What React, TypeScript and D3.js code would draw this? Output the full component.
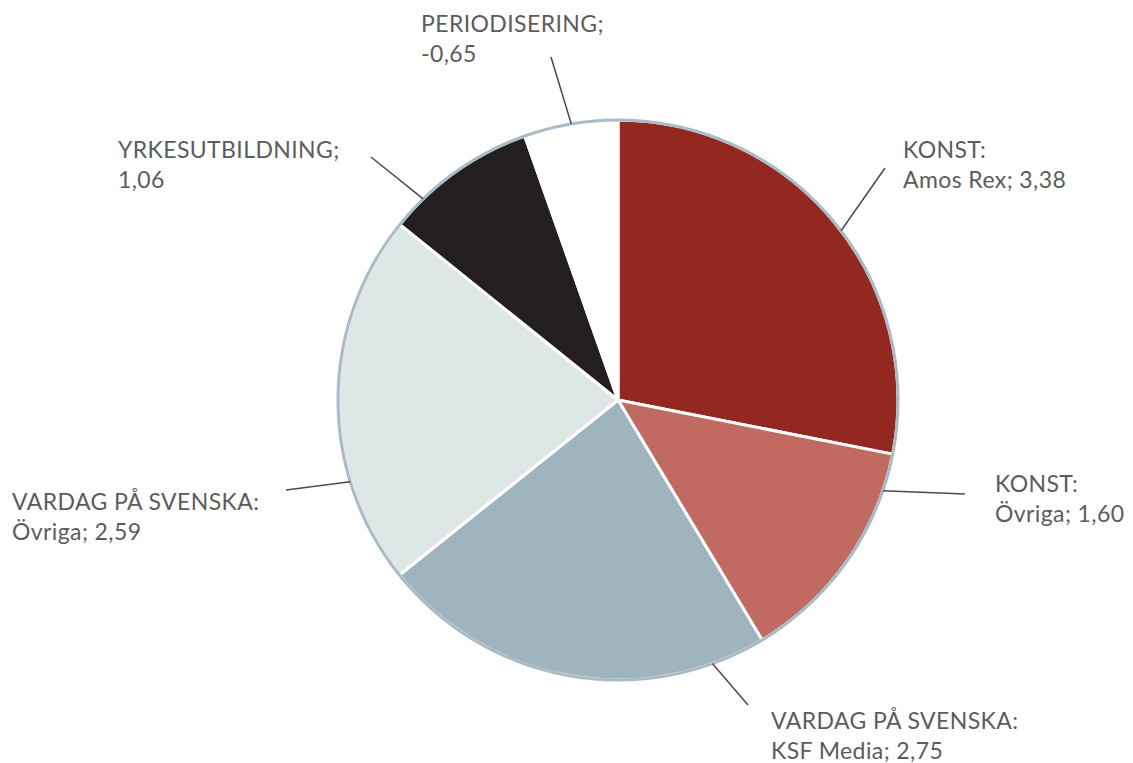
import React from "react";
import * as d3 from "d3";

const categories = ["KONST:", "KONST:", "VARDAG PÅ SVENSKA:", "VARDAG PÅ SVENSKA:", "YRKESUTBILDNING;", "PERIODISERING;"];
const subLabels = ["Amos Rex; 3,38", "Övriga; 1,60", "KSF Media; 2,75", "Övriga; 2,59", "1,06", "-0,65"];
const values = [3.38, 1.6, 2.75, 2.59, 1.06, -0.65];
const colors = ["#922820", "#c06a61", "#9fb4bd", "#dee6e6", "#231f20", "#ffffff"];

// layout for labels: leader-line angle (deg, clockwise from top), line end, text position
const labelLayout = [
  { ang: 52.8, ex: 885, ey: 168, tx: 903, ty: 158 },
  { ang: 108.9, ex: 965, ey: 494, tx: 995, ty: 492 },
  { ang: 160.3, ex: 748, ey: 705, tx: 771, ty: 729 },
  { ang: 253, ex: 286, ey: 490, tx: 12, ty: 510 },
  { ang: 315.9, ex: 371, ey: 157, tx: 118, ty: 158 },
  { ang: 350.4, ex: 551, ey: 57, tx: 421, ty: 32 },
];

const W = 1133;
const H = 763;
const cx = 618;
const cy = 400;
const R = 280;

export default function App() {
  const pie = d3
    .pie<number>()
    .sort(null)
    .value((d) => Math.abs(d))
    .startAngle(0)
    .endAngle(2 * Math.PI);
  const arcs = pie(values);
  const arc = d3.arc<d3.PieArcDatum<number>>().innerRadius(0).outerRadius(R);

  return (
    <svg
      width={W}
      height={H}
      style={{ position: "absolute", left: 0, top: 0, background: "#fff" }}
      fontFamily="Lato, 'Open Sans', sans-serif"
    >
      <g transform={`translate(${cx},${cy})`}>
        {arcs.map((a, i) => (
          <path key={i} d={arc(a) || ""} fill={colors[i]} stroke="#ffffff" strokeWidth={3} strokeLinejoin="round" />
        ))}
        <circle r={R} fill="none" stroke="#a9bcc6" strokeWidth={3} />
      </g>
      {labelLayout.map((l, i) => {
        const t = (l.ang * Math.PI) / 180;
        const sx = cx + R * Math.sin(t);
        const sy = cy - R * Math.cos(t);
        return (
          <g key={i}>
            <line x1={sx} y1={sy} x2={l.ex} y2={l.ey} stroke="#4a4a4a" strokeWidth={1.5} />
            <text x={l.tx} y={l.ty} fontSize={23} letterSpacing={0.4} fill="#5c5c5c">
              {categories[i]}
            </text>
            <text x={l.tx} y={l.ty + 30} fontSize={23} letterSpacing={0.4} fill="#5c5c5c">
              {subLabels[i]}
            </text>
          </g>
        );
      })}
    </svg>
  );
}
